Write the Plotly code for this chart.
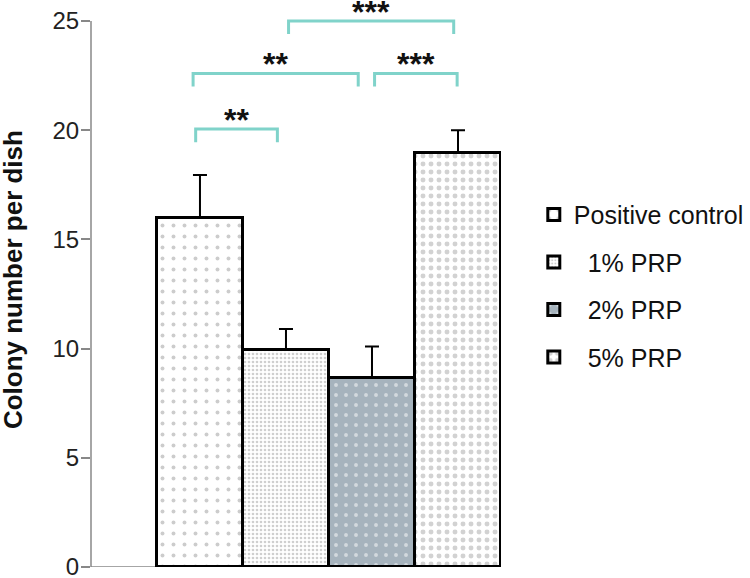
import plotly.graph_objects as go

# data
groups = ["Positive control", "\u00a0\u00a01% PRP", "\u00a0\u00a02% PRP", "\u00a0\u00a05% PRP"]
means = [16.0, 9.95, 8.65, 18.95]
errors = [1.95, 0.95, 1.45, 1.05]

# significance brackets: (x start, x end, height, label)
brackets = [
    (-0.05, 0.9, 20.05, "**"),
    (-0.08, 1.84, 22.6, "**"),
    (2.03, 2.99, 22.6, "***"),
    (1.03, 2.95, 25.0, "***"),
]

patterns = [
    dict(shape=".", size=11, solidity=0.1, fgcolor="#9a9a9a", bgcolor="white"),
    dict(shape=".", size=4, solidity=0.35, fgcolor="#a0a0a0", bgcolor="white"),
    dict(shape=".", size=10, solidity=0.12, fgcolor="white", bgcolor="#a6b3bd"),
    dict(shape=".", size=8, solidity=0.3, fgcolor="#a5a5a5", bgcolor="white"),
]

fig = go.Figure()
for i, name in enumerate(groups):
    fig.add_trace(go.Bar(
        x=[i], y=[means[i]], name=name, width=1,
        marker=dict(color="white", line=dict(color="black", width=3),
                    pattern=patterns[i]),
        error_y=dict(type="data", array=[errors[i]], arrayminus=[0],
                     symmetric=False, color="black", thickness=2, width=7),
        legendgroup=str(i),
    ))

teal = "#80d3ca"
for x0, x1, h, label in brackets:
    fig.add_shape(type="path",
                  path=f"M {x0} {h-0.6} L {x0} {h} L {x1} {h} L {x1} {h-0.6}",
                  line=dict(color=teal, width=3), xref="x", yref="y")
    fig.add_annotation(x=(x0 + x1) / 2, y=h, text=f"<b>{label}</b>", showarrow=False,
                       yanchor="middle", yshift=9, font=dict(size=32, color="#111"))

# y title as a rotated annotation (sits closer to the page edge than the axis title allows)
fig.add_annotation(x=0, y=0.506, xref="paper", yref="paper", xshift=-78,
                   text="<b>Colony number per dish</b>", textangle=-90,
                   showarrow=False, xanchor="center", yanchor="middle",
                   font=dict(size=26, color="#111"))

# axis lines
fig.add_shape(type="line", xref="paper", yref="y", x0=0, x1=0, y0=0, y1=25,
              line=dict(color="#888", width=1.5))
fig.add_shape(type="line", xref="paper", yref="y", x0=0, x1=1, y0=0, y1=0,
              line=dict(color="#888", width=1.5), layer="below")

fig.update_layout(
    width=750, height=578,
    margin=dict(l=91, r=249, t=0, b=11),
    plot_bgcolor="white", paper_bgcolor="white",
    font=dict(family="Liberation Sans, Arial, sans-serif", color="#222"),
    bargap=0, barmode="overlay",
    showlegend=True,
    legend=dict(x=1.08, y=0.662, xanchor="left", yanchor="top",
                font=dict(size=25, color="#111"), tracegroupgap=12,
                itemwidth=30),
    xaxis=dict(range=[-1.267, 3.5], showticklabels=False, showgrid=False,
               zeroline=False, showline=False, ticks=""),
    yaxis=dict(range=[0, 25.96], tickvals=[0, 5, 10, 15, 20, 25],
               ticks="outside", ticklen=9, tickcolor="#888", tickwidth=1.5,
               ticklabelstandoff=-3, ticklabeloverflow="allow",
               showgrid=False, zeroline=False, showline=False, automargin=False,
               tickfont=dict(size=24, color="#222")),
)

# the page body has a default 8px margin; remove it so the figure fills the window
fig.write_html("out.html", config={"displayModeBar": False},
               post_script="document.body.style.margin='0';")
